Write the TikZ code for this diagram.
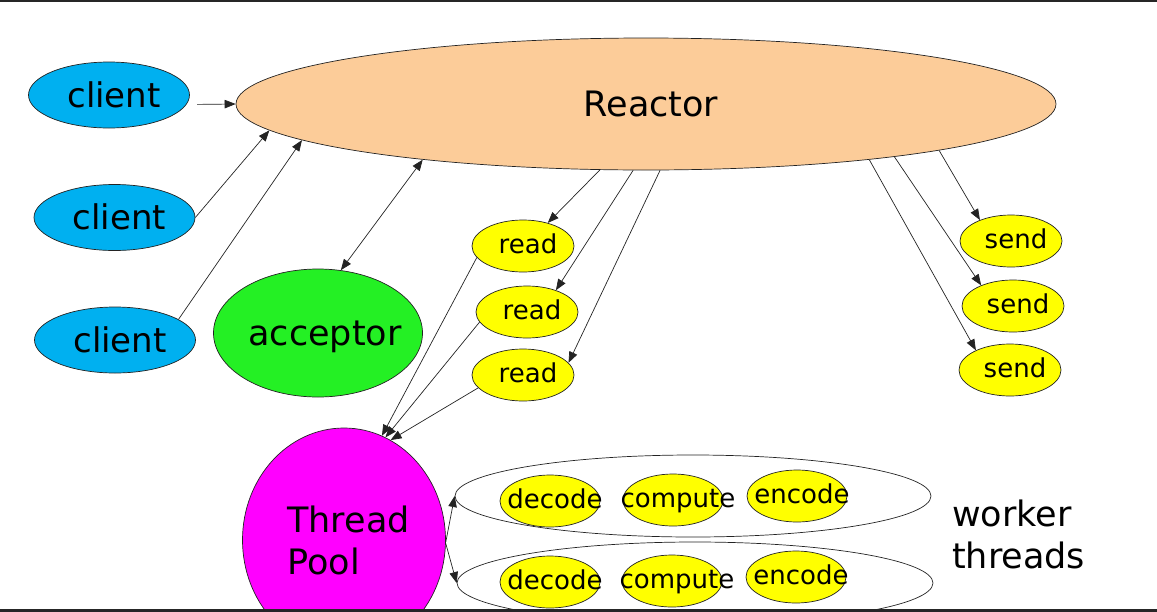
\documentclass[tikz,border=0pt]{standalone}
\usepackage{fontspec}
\setmainfont{DejaVu Sans}
\usetikzlibrary{shapes.geometric,arrows.meta}
\definecolor{clientblue}{RGB}{0,176,240}
\definecolor{reactorpeach}{RGB}{252,204,153}
\definecolor{accgreen}{RGB}{36,240,36}
\definecolor{poolmag}{RGB}{255,0,255}
\definecolor{taskyellow}{RGB}{255,255,0}
\definecolor{edgegray}{RGB}{35,35,35}
\newcommand{\tx}[1]{\makebox[0pt]{\hspace*{10pt}#1}}
\begin{document}
\begin{tikzpicture}[x=1pt,y=-1pt,
  blob/.style={ellipse, draw=edgegray, line width=0.7pt, inner sep=0pt, text=black},
  bigtxt/.style={font=\fontsize{35}{42}\selectfont, text height=24pt, text depth=0pt},
  smalltxt/.style={font=\fontsize{26}{30}\selectfont, text height=14pt, text depth=0pt},
  clientnode/.style={blob, fill=clientblue, minimum width=161pt, minimum height=66pt, bigtxt, font=\fontsize{34}{40}\selectfont},
  tasknode/.style={blob, fill=taskyellow, minimum width=102pt, minimum height=52pt, smalltxt},
  workernode/.style={blob, minimum width=476pt, minimum height=82pt},
  tipshape/.tip={Triangle[length=11pt,width=8.5pt]},
  link/.style={draw=edgegray, line width=0.7pt, -tipshape},
  dlink/.style={draw=edgegray, line width=0.7pt, tipshape-tipshape},
  frameline/.style={line width=2.5pt, draw=black!85}]
\useasboundingbox (0,0) rectangle (1157,611);
\clip (0,0) rectangle (1157,611);

% main nodes
\node[blob, fill=reactorpeach, minimum width=820pt, minimum height=132pt, bigtxt] (reactor) at (646,104) {\tx{Reactor}};
\node[clientnode] (c1) at (109,95) {\tx{client}};
\node[clientnode] (c2) at (114.5,217.5) {\tx{client}};
\node[clientnode] (c3) at (115,340) {\tx{client}};
\node[blob, fill=accgreen, minimum width=209pt, minimum height=128pt, bigtxt] (acc) at (318,333) {\makebox[0pt]{\hspace*{14pt}acceptor}};

\node[tasknode] (r1) at (523,246) {\tx{read}};
\node[tasknode] (r2) at (527,312) {\tx{read}};
\node[tasknode] (r3) at (523,375) {\tx{read}};

\node[tasknode] (s1) at (1011,241) {\tx{send}};
\node[tasknode] (s2) at (1013,306) {\tx{send}};
\node[tasknode] (s3) at (1010,370) {\tx{send}};

\node[blob, fill=poolmag, minimum width=203pt, minimum height=224pt, align=left, font=\fontsize{35}{42}\selectfont] (pool) at (344,540) {\hspace*{9pt}Thread\\\hspace*{9pt}Pool};

% worker threads
\node[workernode] (w1) at (693,496) {};
\node[workernode] (w2) at (695,583) {};
\node[tasknode, minimum width=100pt] (d1) at (550,501) {\tx{decode}};
\node[tasknode, minimum width=100pt] (p1) at (673,500) {\tx{compute}};
\node[tasknode, minimum width=100pt] (e1) at (797,496) {\tx{encode}};
\node[tasknode, minimum width=100pt] (d2) at (550,582) {\tx{decode}};
\node[tasknode, minimum width=100pt] (p2) at (672,581) {\tx{compute}};
\node[tasknode, minimum width=100pt] (e2) at (796,577) {\tx{encode}};

\node[anchor=north west, inner sep=0pt, align=left, font=\fontsize{35}{42}\selectfont] (wt) at (952,500) {worker\\threads};

% connectors
\draw[link, shorten <=11pt] (c1.-7) -- (reactor.west);
\draw[link] (c2.east) -- (reactor.184.3);
\draw[link] (c3.18.7) -- (reactor.186.5);
\draw[dlink] (acc.70) -- (reactor.194);

\draw[link] (reactor.235) -- (r1.43);
\draw[link] (reactor.259.7) -- (r2.37);
\draw[link] (reactor.282) -- (r3.15);

\draw[link] (reactor.-9) -- (s1.146);
\draw[link] (reactor.-12.2) -- (s2.147.5);
\draw[link] (reactor.-14.4) -- (s3.150);

\draw[link] (r1.194) -- (pool.70.4);
\draw[link] (r2.192.6) -- (pool.68.6);
\draw[link] (r3.196) -- (pool.65.6);

\draw[link] (pool.-1) -- (w1.west);
\draw[link] (pool.-2) -- (w2.west);

% frame lines
\draw[frameline] (0,0.8) -- (1157,0.8);
\draw[frameline] (0,610.5) -- (1157,610.5);
\end{tikzpicture}
\end{document}
